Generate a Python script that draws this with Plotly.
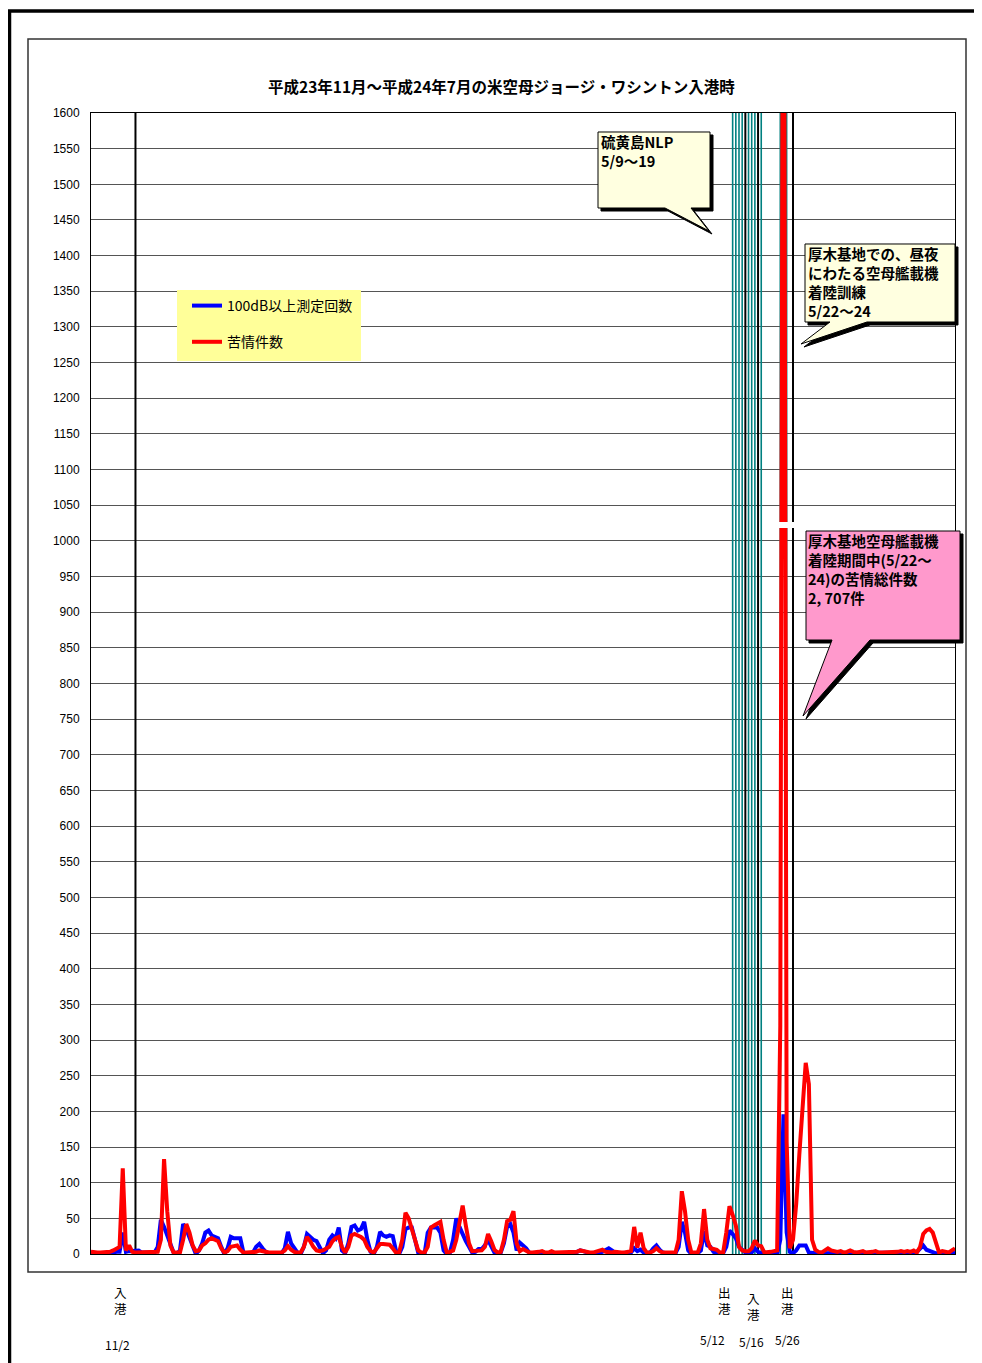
import plotly.graph_objects as go
import pandas as pd

# ---------------- data ----------------
START_DATE = "2011-10-19"   # first day shown (daily series)

# 苦情件数 (complaints per day)
complaints = [
    3, 2, 2, 2, 2, 2, 3, 5, 8, 10,
    120, 5, 12, 3, 2, 2, 3, 2, 2, 2,
    3, 3, 20, 133, 60, 12, 2, 2, 2, 20,
    42, 30, 12, 4, 5, 12, 15, 20, 22, 20,
    18, 8, 2, 4, 10, 11, 12, 6, 2, 2,
    2, 2, 3, 5, 4, 2, 2, 2, 2, 2,
    2, 5, 11, 6, 3, 2, 2, 10, 24, 18,
    10, 5, 4, 5, 7, 10, 18, 22, 24, 10,
    2, 10, 26, 28, 26, 24, 20, 10, 4, 2,
    8, 14, 14, 13, 13, 8, 2, 2, 20, 58,
    50, 35, 20, 5, 2, 2, 10, 37, 40, 42,
    45, 20, 2, 3, 5, 20, 45, 68, 40, 15,
    4, 4, 4, 5, 10, 28, 18, 6, 2, 3,
    20, 46, 48, 60, 15, 4, 7, 5, 2, 2,
    2, 3, 4, 2, 2, 4, 2, 2, 2, 2,
    2, 3, 2, 3, 5, 4, 2, 2, 2, 3,
    4, 6, 3, 2, 2, 3, 2, 2, 2, 3,
    4, 38, 9, 30, 8, 2, 2, 4, 8, 4,
    2, 2, 2, 2, 2, 20, 88, 60, 20, 2,
    2, 2, 15, 63, 20, 8, 7, 6, 2, 2,
    30, 67, 55, 40, 10, 5, 4, 4, 8, 19,
    12, 11, 2, 2, 3, 4, 5, 320, 2230, 157,
    8, 20, 70, 140, 205, 268, 238, 20, 6, 3,
    2, 5, 8, 5, 4, 3, 4, 2, 3, 5,
    3, 2, 3, 4, 2, 2, 3, 4, 2, 2,
    2, 2, 2, 2, 3, 4, 3, 4, 3, 5,
    2, 10, 28, 33, 35, 30, 15, 2, 4, 3,
    2, 5, 8,
]

# 100dB以上測定回数 (noise events >= 100 dB per day)
noise_100db = [
    2, 1, 1, 1, 1, 1, 2, 2, 3, 3,
    30, 3, 4, 4, 5, 5, 2, 2, 1, 1,
    2, 10, 48, 38, 25, 12, 2, 0, 5, 42,
    35, 23, 10, 0, 5, 15, 30, 33, 26, 24,
    22, 10, 0, 8, 24, 22, 22, 22, 2, 0,
    1, 2, 10, 14, 8, 3, 1, 1, 1, 1,
    1, 8, 31, 15, 8, 2, 0, 10, 28, 24,
    20, 18, 8, 1, 5, 20, 26, 22, 37, 5,
    1, 15, 38, 40, 33, 35, 45, 20, 3, 0,
    10, 31, 26, 24, 26, 25, 5, 0, 10, 35,
    37, 37, 20, 2, 0, 0, 30, 37, 37, 37,
    30, 5, 0, 2, 20, 50, 38, 26, 18, 10,
    2, 3, 7, 7, 12, 20, 12, 2, 0, 2,
    15, 38, 42, 30, 5, 16, 12, 8, 2, 0,
    1, 1, 3, 1, 1, 1, 1, 1, 1, 1,
    1, 2, 1, 3, 5, 4, 2, 1, 1, 1,
    2, 3, 6, 8, 5, 2, 1, 1, 1, 1,
    2, 8, 4, 6, 2, 1, 2, 8, 12, 6,
    2, 1, 1, 1, 1, 10, 45, 30, 5, 0,
    0, 1, 5, 32, 12, 10, 3, 1, 1, 1,
    10, 33, 28, 22, 10, 5, 2, 1, 2, 8,
    3, 1, 1, 0, 0, 0, 0, 20, 196, 30,
    3, 1, 5, 12, 12, 12, 2, 1, 1, 1,
    1, 2, 1, 1, 2, 1, 1, 1, 2, 1,
    1, 1, 2, 1, 1, 1, 1, 2, 1, 1,
    1, 1, 1, 1, 2, 1, 1, 2, 1, 2,
    3, 8, 12, 6, 4, 3, 1, 1, 2, 1,
    1, 2, 3,
]

# carrier port calls (入港 / 出港) marker days
port_call_dates = ["2011-11-02", "2012-05-12", "2012-05-16", "2012-05-27"]
port_call_kinds = ["入港", "出港", "入港", "出港"]
port_call_texts = ["11/2", "5/12", "5/16", "5/26"]

# training days drawn as teal marker lines
training_dates = ["2012-05-08", "2012-05-09", "2012-05-10", "2012-05-11",
                  "2012-05-13", "2012-05-14", "2012-05-15", "2012-05-17",
                  "2012-05-23", "2012-05-25"]

Y_MAX = 1600
Y_STEP = 50

TITLE = "平成23年11月～平成24年7月の米空母ジョージ・ワシントン入港時"
SERIES_NAMES = ["100dB以上測定回数", "苦情件数"]
CALLOUT_NLP = ["硫黄島NLP", "5/9～19"]
CALLOUT_FCLP = ["厚木基地での、昼夜", "にわたる空母艦載機", "着陸訓練", "5/22～24"]
CALLOUT_TOTAL = ["厚木基地空母艦載機", "着陸期間中(5/22～", "24)の苦情総件数", "2, 707件"]

dates = pd.date_range(START_DATE, periods=len(complaints), freq="D")

# ---------------- layout helpers (page pixel -> paper) ----------------
# the page body has an 8px margin, so the figure starts at page (8, 8)
OFF = 8
PAGE_W, PAGE_H = 982, 1363
W, H = PAGE_W - OFF, PAGE_H - OFF
PL, PR, PT, PB = 91, 955, 113, 1254   # plot area in page pixels


def fx(px):
    return (px - PL) / (PR - PL)


def fy(py):
    return (PB - py) / (PB - PT)


def path_from_px(points, dx=0, dy=0):
    s = "M " + " L ".join(f"{fx(x + dx):.5f},{fy(y + dy):.5f}" for x, y in points)
    return s + " Z"


def vlines(day_list):
    xs, ys = [], []
    for d in day_list:
        xs += [d, d, None]
        ys += [0, Y_MAX, None]
    return xs, ys


fig = go.Figure()

tx, ty = vlines(training_dates)
fig.add_trace(go.Scatter(x=tx, y=ty, mode="lines", line=dict(color="#008080", width=1.6),
                         showlegend=False, hoverinfo="skip"))
px_, py_ = vlines(port_call_dates)
fig.add_trace(go.Scatter(x=px_, y=py_, mode="lines", line=dict(color="#000000", width=2),
                         showlegend=False, hoverinfo="skip"))

fig.add_trace(go.Scatter(x=dates, y=noise_100db, mode="lines", name=SERIES_NAMES[0],
                         line=dict(color="#0000FF", width=4), legendgroup="a"))
fig.add_trace(go.Scatter(x=dates, y=complaints, mode="lines", name=SERIES_NAMES[1],
                         line=dict(color="#FF0000", width=4), legendgroup="b"))

JP = "Noto Sans CJK JP"

shapes = []
# outer page frame (thick, top + left)
shapes.append(dict(type="path", xref="paper", yref="paper",
                   path=f"M {fx(9.5):.5f},{fy(1400):.5f} L {fx(9.5):.5f},{fy(11):.5f} L {fx(990):.5f},{fy(11):.5f}",
                   line=dict(color="#000000", width=3.5)))
# chart area box
shapes.append(dict(type="rect", xref="paper", yref="paper",
                   x0=fx(28), x1=fx(966), y0=fy(1272), y1=fy(39),
                   line=dict(color="#333333", width=1.5), layer="below"))
# legend background
shapes.append(dict(type="rect", xref="paper", yref="paper",
                   x0=fx(177), x1=fx(361), y0=fy(361), y1=fy(290),
                   fillcolor="#FFFF99", line=dict(width=0)))
# break mark over the spike
shapes.append(dict(type="rect", xref="paper", yref="paper",
                   x0=fx(777.5), x1=fx(796), y0=fy(528), y1=fy(522),
                   fillcolor="#FFFFFF", line=dict(width=0)))

callouts = [
    ([(598, 132), (710, 132), (710, 208), (691, 208), (709, 231), (665, 208), (598, 208)], "#FFFFE0"),
    ([(805, 244), (955, 244), (955, 322), (867, 322), (801, 344), (830, 322), (805, 322)], "#FFFFE0"),
    ([(806, 531), (960, 531), (960, 640), (870, 640), (803, 716), (832, 640), (806, 640)], "#FF99CC"),
]
for pts, col in callouts:
    shapes.append(dict(type="path", xref="paper", yref="paper", path=path_from_px(pts, 3, 3),
                       fillcolor="#000000", line=dict(color="#000000", width=1)))
    shapes.append(dict(type="path", xref="paper", yref="paper", path=path_from_px(pts),
                       fillcolor=col, line=dict(color="#000000", width=1)))

annotations = []
annotations.append(dict(text=f"<b>{TITLE}</b>", xref="paper", yref="paper", x=fx(501), y=fy(86),
                        xanchor="center", yanchor="middle", showarrow=False,
                        font=dict(family=JP, size=15.5, color="#000000")))


def callout_text(lines, x_px, y_top_px, size):
    annotations.append(dict(text="<br>".join(f"<b>{ln}</b>" for ln in lines),
                            xref="paper", yref="paper", x=fx(x_px), y=fy(y_top_px),
                            xanchor="left", yanchor="top", align="left", showarrow=False,
                            borderpad=0,
                            font=dict(family=JP, size=size, color="#000000")))


callout_text(CALLOUT_NLP, 600, 130, 14.5)
callout_text(CALLOUT_FCLP, 807, 242, 14.5)
callout_text(CALLOUT_TOTAL, 807, 529, 14.5)

label_px = [(120, 1300), (724, 1301), (753, 1306), (787, 1301)]
date_px = [(117, 1344), (712, 1340), (751, 1341), (787, 1340)]
for kind, (lx, ly) in zip(port_call_kinds, label_px):
    annotations.append(dict(text="<br>".join(kind), xref="paper", yref="paper", x=fx(lx), y=fy(ly),
                            xanchor="center", yanchor="middle", showarrow=False, borderpad=0,
                            font=dict(family=JP, size=12.5, color="#000000")))
for t, (lx, ly) in zip(port_call_texts, date_px):
    annotations.append(dict(text=t, xref="paper", yref="paper", x=fx(lx), y=fy(ly),
                            xanchor="center", yanchor="middle", showarrow=False, borderpad=0,
                            font=dict(family=JP, size=12, color="#000000")))

fig.update_layout(
    width=W, height=H, autosize=False,
    margin=dict(l=PL - OFF, r=PAGE_W - PR, t=PT - OFF, b=PAGE_H - PB, pad=0),
    paper_bgcolor="#FFFFFF", plot_bgcolor="#FFFFFF",
    showlegend=True,
    legend=dict(x=fx(187), y=fy(290), xanchor="left", yanchor="top",
                bgcolor="rgba(0,0,0,0)", borderwidth=0, tracegroupgap=15,
                font=dict(family=JP, size=14, color="#000000"), itemwidth=30),
    xaxis=dict(type="date", range=[dates[0], dates[-1]], showticklabels=False, ticks="",
               showgrid=False, zeroline=False, showline=True, linecolor="#000000",
               linewidth=1, mirror=True),
    yaxis=dict(range=[0, Y_MAX], tick0=0, dtick=Y_STEP, showgrid=True, gridcolor="#555555",
               gridwidth=1, zeroline=False, showline=True, linecolor="#000000", linewidth=1,
               mirror=True, ticks="", ticklabelstandoff=8,
               tickfont=dict(family="Liberation Sans", size=12, color="#000000")),
    shapes=shapes,
    annotations=annotations,
)

fig.write_html("out.html")
